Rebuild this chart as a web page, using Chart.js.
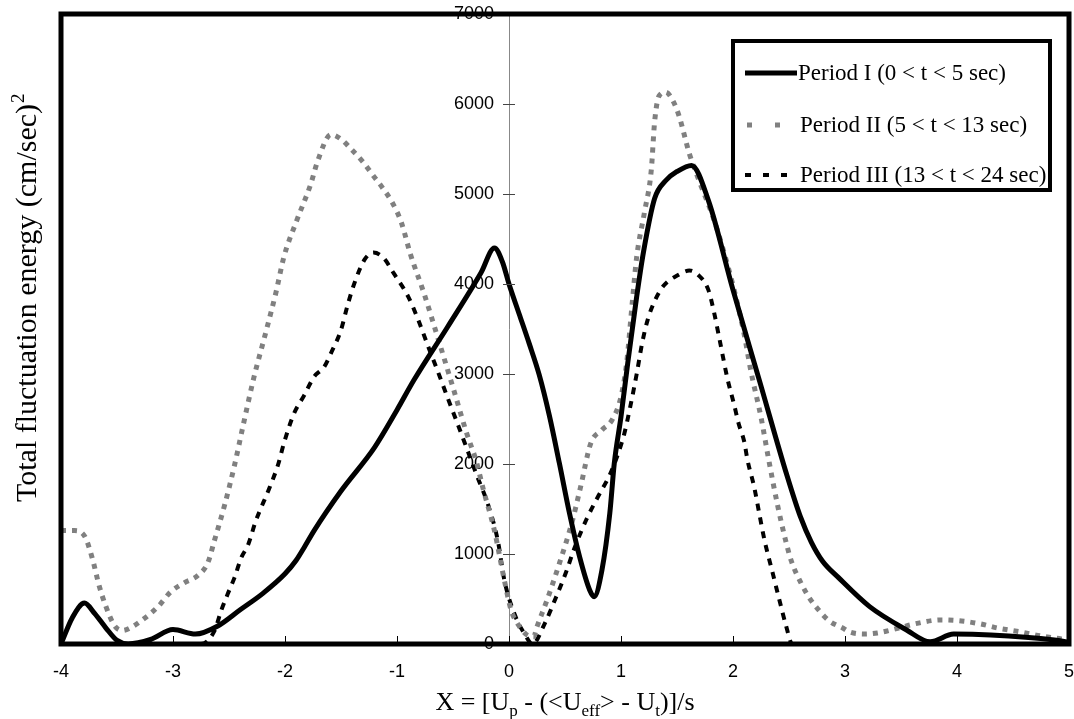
<!DOCTYPE html>
<html><head><meta charset="utf-8">
<script src="https://cdn.jsdelivr.net/npm/chart.js@4.4.1/dist/chart.umd.min.js"></script>
<style>html,body{margin:0;padding:0;background:#fff;}#wrap{width:1074px;height:719px;}</style>
</head><body><div id="wrap"><canvas id="c" width="1074" height="719"></canvas></div>
<script>
// ---- data ----
const seriesLabels = ['Period I (0 < t < 5 sec)', 'Period II (5 < t < 13 sec)', 'Period III (13 < t < 24 sec)'];
const xTicks = [-4, -3, -2, -1, 0, 1, 2, 3, 4, 5];
const yTicks = [0, 1000, 2000, 3000, 4000, 5000, 6000, 7000];

const xI = [-4, -3.9, -3.79, -3.7, -3.6, -3.5, -3.4, -3.2, -3.0, -2.8, -2.6, -2.4, -2.2, -2.0, -1.9, -1.83, -1.74, -1.5, -1.2, -1.0, -0.85, -0.55, -0.25, -0.13, -0.06, 0.0, 0.09, 0.18, 0.27, 0.36, 0.45, 0.54, 0.63, 0.72, 0.76, 0.83, 0.9, 0.94, 1.0, 1.06, 1.14, 1.2, 1.3, 1.4, 1.5, 1.63, 1.78, 2.0, 2.24, 2.48, 2.6, 2.7, 2.8, 2.94, 3.22, 3.55, 3.76, 3.97, 4.3, 4.87, 5];
const yI = [0, 290, 455, 340, 180, 40, 0, 50, 160, 110, 200, 380, 560, 780, 930, 1070, 1260, 1700, 2185, 2600, 2930, 3520, 4125, 4400, 4250, 4000, 3670, 3340, 2990, 2540, 2007, 1452, 970, 600, 526, 822, 1452, 2007, 2526, 3119, 3859, 4350, 4950, 5150, 5250, 5318, 4930, 3935, 2910, 1880, 1420, 1130, 920, 740, 415, 156, 25, 110, 100, 45, 20];

const xII = [-4, -3.88, -3.79, -3.72, -3.66, -3.6, -3.52, -3.45, -3.38, -3.26, -3.13, -3.02, -2.9, -2.78, -2.69, -2.63, -2.54, -2.45, -2.37, -2.28, -2.17, -2.08, -2.01, -1.9, -1.77, -1.71, -1.59, -1.5, -1.41, -1.3, -1.21, -1.13, -1.04, -0.96, -0.88, -0.76, -0.63, -0.5, -0.38, -0.29, -0.23, -0.13, -0.04, 0.02, 0.08, 0.15, 0.22, 0.25, 0.34, 0.45, 0.56, 0.64, 0.73, 0.83, 0.92, 1.0, 1.05, 1.1, 1.14, 1.21, 1.27, 1.3, 1.34, 1.4, 1.47, 1.52, 1.61, 1.69, 1.82, 1.92, 2.01, 2.1, 2.16, 2.25, 2.32, 2.4, 2.47, 2.52, 2.61, 2.68, 2.77, 2.86, 2.98, 3.04, 3.17, 3.29, 3.48, 3.62, 3.86, 4.04, 4.21, 4.36, 4.57, 4.75, 4.93, 5];
const yII = [1260, 1260, 1200, 950, 650, 420, 200, 150, 180, 280, 420, 580, 680, 760, 900, 1150, 1540, 1990, 2450, 2950, 3470, 3910, 4300, 4690, 5110, 5360, 5660, 5610, 5500, 5350, 5200, 5070, 4900, 4680, 4330, 3900, 3380, 2850, 2350, 2020, 1720, 1260, 700, 370, 220, 110, 80, 192, 489, 896, 1341, 1750, 2230, 2378, 2489, 2748, 3119, 3785, 4300, 4800, 5260, 5800, 6090, 6130, 6020, 5860, 5450, 5170, 4750, 4350, 3935, 3440, 3030, 2520, 2040, 1530, 1150, 925, 670, 515, 370, 256, 178, 134, 111, 123, 178, 223, 268, 256, 223, 178, 134, 89, 56, 40];

const xIII = [-4, -2.75, -2.63, -2.57, -2.51, -2.45, -2.39, -2.33, -2.26, -2.14, -2.06, -2.01, -1.92, -1.83, -1.74, -1.65, -1.59, -1.5, -1.44, -1.38, -1.29, -1.21, -1.12, -1.03, -0.9, -0.81, -0.72, -0.63, -0.54, -0.46, -0.37, -0.28, -0.19, -0.1, -0.04, 0.05, 0.14, 0.21, 0.32, 0.42, 0.51, 0.58, 0.69, 0.8, 0.9, 0.97, 1.03, 1.08, 1.14, 1.19, 1.24, 1.3, 1.38, 1.51, 1.61, 1.69, 1.78, 1.83, 1.89, 1.95, 2.01, 2.05, 2.1, 2.13, 2.19, 2.23, 2.28, 2.35, 2.41, 2.47, 2.53, 5];
const yIII = [0, 0, 145, 370, 560, 740, 960, 1100, 1370, 1730, 2000, 2230, 2560, 2760, 2970, 3080, 3230, 3490, 3770, 4010, 4270, 4350, 4290, 4120, 3860, 3600, 3300, 3010, 2710, 2450, 2150, 1850, 1560, 1150, 700, 330, 110, 0, 230, 520, 800, 1050, 1380, 1650, 1880, 2100, 2340, 2620, 3000, 3350, 3610, 3810, 3980, 4100, 4150, 4100, 3935, 3690, 3320, 2950, 2660, 2450, 2250, 2040, 1740, 1480, 1160, 810, 510, 220, 0, 0];

const pts = (xs, ys) => xs.map((v, i) => ({x: v, y: ys[i]}));

const SERIF = '"Liberation Serif", "Times New Roman", serif';
const SANS = '"Liberation Sans", Arial, sans-serif';

const zeroPad = s => { s.paddingTop = 0; s.paddingBottom = 0; s.paddingLeft = 0; s.paddingRight = 0; };

const decorPlugin = {
  id: 'decor',
  afterDraw(chart) {
    const {ctx, chartArea: a, scales: {x, y}} = chart;
    ctx.save();
    ctx.strokeStyle = '#000';
    ctx.lineWidth = 1;
    // x tick marks (inward)
    xTicks.forEach(v => {
      const px = Math.round(x.getPixelForValue(v)) + 0.5;
      ctx.beginPath(); ctx.moveTo(px, a.bottom - 8); ctx.lineTo(px, a.bottom); ctx.stroke();
    });
    // y tick crosses on the centre axis
    const x0 = x.getPixelForValue(0);
    ctx.strokeStyle = '#444';
    yTicks.forEach(v => {
      const py = Math.round(y.getPixelForValue(v)) + 0.5;
      ctx.beginPath(); ctx.moveTo(x0 - 6, py); ctx.lineTo(x0 + 6, py); ctx.stroke();
    });
    // frame
    ctx.strokeStyle = '#000';
    ctx.lineWidth = 5;
    ctx.strokeRect(a.left, a.top, a.right - a.left, a.bottom - a.top);

    // legend
    const L = {l: 733, t: 41, r: 1050, b: 190};
    ctx.fillStyle = '#fff';
    ctx.fillRect(L.l, L.t, L.r - L.l, L.b - L.t);
    ctx.lineWidth = 4;
    ctx.strokeStyle = '#000';
    ctx.strokeRect(L.l, L.t, L.r - L.l, L.b - L.t);
    const rows = [73, 125, 175];
    const textX = [798, 800, 800];
    const sampleDash = [[], [5, 23], [6, 12]];
    const sampleStart = [745, 747, 745];
    chart.data.datasets.forEach((ds, i) => {
      ctx.save();
      ctx.strokeStyle = ds.borderColor;
      ctx.lineWidth = ds.borderWidth;
      ctx.setLineDash(sampleDash[i]);
      ctx.beginPath(); ctx.moveTo(sampleStart[i], rows[i]); ctx.lineTo(797, rows[i]); ctx.stroke();
      ctx.restore();
      ctx.fillStyle = '#000';
      ctx.font = '23px ' + SERIF;
      ctx.textBaseline = 'middle';
      ctx.textAlign = 'left';
      ctx.fillText(ds.label, textX[i], rows[i] + 1);
    });

    // x title with subscripts
    const parts = [['X = [U', 0], ['p', 1], [' - (<U', 0], ['eff', 1], ['> - U', 0], ['t', 1], [')]/s', 0]];
    const big = '26px ' + SERIF, small = '17px ' + SERIF;
    let w = 0;
    parts.forEach(p => { ctx.font = p[1] ? small : big; w += ctx.measureText(p[0]).width; });
    let cx = (a.left + a.right) / 2 - w / 2;
    ctx.fillStyle = '#000';
    ctx.textAlign = 'left';
    ctx.textBaseline = 'alphabetic';
    parts.forEach(p => {
      ctx.font = p[1] ? small : big;
      ctx.fillText(p[0], cx, 710 + (p[1] ? 6 : 0));
      cx += ctx.measureText(p[0]).width;
    });

    // y title with superscript
    ctx.save();
    ctx.translate(36, 502);
    ctx.rotate(-Math.PI / 2);
    ctx.font = '30px ' + SERIF;
    const main = 'Total fluctuation energy (cm/sec)';
    ctx.fillText(main, 0, 0);
    const mw = ctx.measureText(main).width;
    ctx.font = '19px ' + SERIF;
    ctx.fillText('2', mw + 1, -12);
    ctx.restore();

    ctx.restore();
  }
};

new Chart(document.getElementById('c'), {
  type: 'line',
  data: {
    datasets: [
      {label: seriesLabels[0], data: pts(xI, yI), borderColor: '#000', borderWidth: 5, pointRadius: 0, cubicInterpolationMode: 'monotone', fill: false},
      {label: seriesLabels[1], data: pts(xII, yII), borderColor: '#808080', borderWidth: 5, borderDash: [5, 6], pointRadius: 0, cubicInterpolationMode: 'monotone', fill: false},
      {label: seriesLabels[2], data: pts(xIII, yIII), borderColor: '#000', borderWidth: 4, borderDash: [7, 7], pointRadius: 0, cubicInterpolationMode: 'monotone', fill: false}
    ]
  },
  options: {
    responsive: false,
    animation: false,
    devicePixelRatio: 1,
    layout: {padding: {left: 61, right: 5, top: 14, bottom: 0}},
    plugins: {legend: {display: false}, tooltip: {enabled: false}},
    scales: {
      x: {
        type: 'linear', min: -4, max: 5,
        afterFit: s => { s.height = 75; zeroPad(s); },
        afterBuildTicks: s => { s.ticks = xTicks.map(v => ({value: v})); },
        grid: {display: false, drawTicks: false},
        border: {display: false},
        ticks: {color: '#000', font: {family: SANS, size: 18}, padding: 17, maxRotation: 0, callback: v => String(v)}
      },
      y: {
        type: 'linear', min: 0, max: 7000,
        position: {x: 0},
        afterFit: s => { zeroPad(s); },
        afterBuildTicks: s => { s.ticks = yTicks.map(v => ({value: v})); },
        grid: {display: false, drawTicks: false},
        border: {display: true, color: '#888', width: 1},
        ticks: {color: '#000', font: {family: SANS, size: 18}, padding: 15, callback: v => String(v) + '   '}
      }
    }
  },
  plugins: [decorPlugin]
});
</script>
</body></html>
